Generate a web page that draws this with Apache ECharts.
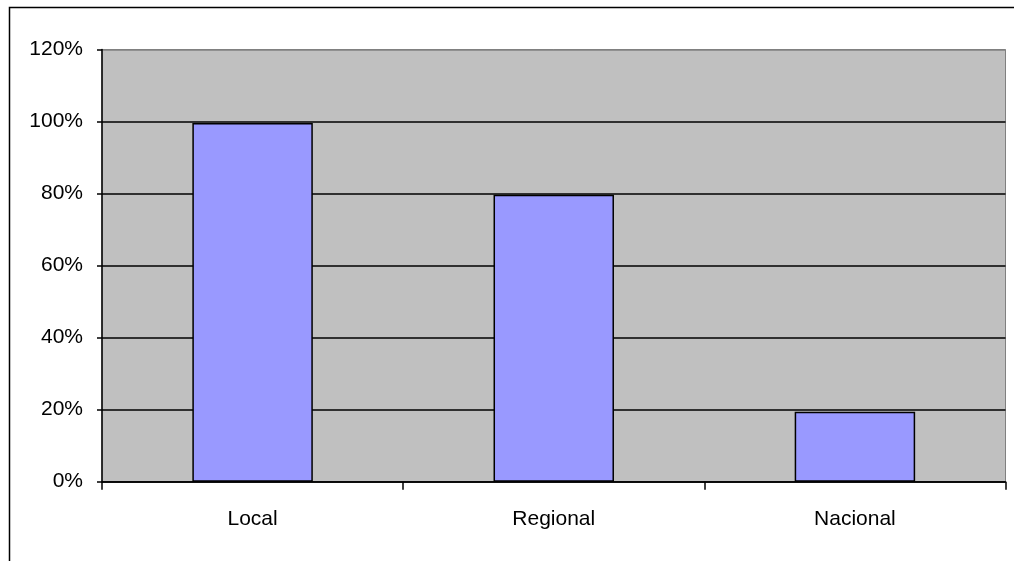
<!DOCTYPE html>
<html><head><meta charset="utf-8">
<script src="https://cdn.jsdelivr.net/npm/echarts@6/dist/echarts.min.js"></script>
<style>html,body{margin:0;padding:0;background:#fff}#c{width:1014px;height:561px}</style>
</head><body><div id="c"></div>
<script>
var categories = ['Local', 'Regional', 'Nacional'];
var values = [99.6, 79.7, 19.4];
var yTicks = [0, 20, 40, 60, 80, 100, 120];

var chart = echarts.init(document.getElementById('c'), null, {renderer: 'canvas'});
var font = '"Liberation Sans", Arial, sans-serif';
chart.setOption({
  animation: false,
  backgroundColor: '#ffffff',
  graphic: [{
    type: 'rect', z: 100,
    shape: {x: 9.5, y: 7.5, width: 1100, height: 700},
    style: {fill: 'none', stroke: '#000', lineWidth: 1.5}
  }],
  grid: {
    left: 102, right: 8.5, top: 49.5, bottom: 79.3,
    show: true, backgroundColor: '#C0C0C0', borderColor: '#808080', borderWidth: 1
  },
  xAxis: {
    type: 'category', data: categories, boundaryGap: true,
    axisLine: {lineStyle: {color: '#000', width: 1.5}},
    axisTick: {show: true, length: 8, lineStyle: {color: '#000', width: 1.5}},
    axisLabel: {color: '#000', fontSize: 21, fontFamily: font, margin: 27}
  },
  yAxis: {
    type: 'value', min: yTicks[0], max: yTicks[yTicks.length - 1], interval: 20,
    axisLine: {show: true, lineStyle: {color: '#000', width: 1.5}},
    axisTick: {show: true, length: 5, lineStyle: {color: '#000', width: 1.5}},
    axisLabel: {color: '#000', fontSize: 21, fontFamily: font, margin: 19, formatter: '{value}%'},
    splitLine: {show: true, lineStyle: {color: ['#000', '#000', '#000', '#000', '#000', '#000', '#808080'], width: 1.5}}
  },
  series: [{
    type: 'bar', data: values, barWidth: '40%',
    itemStyle: {color: '#9999FF', borderColor: '#000', borderWidth: 1.5}
  }]
});
</script></body></html>
